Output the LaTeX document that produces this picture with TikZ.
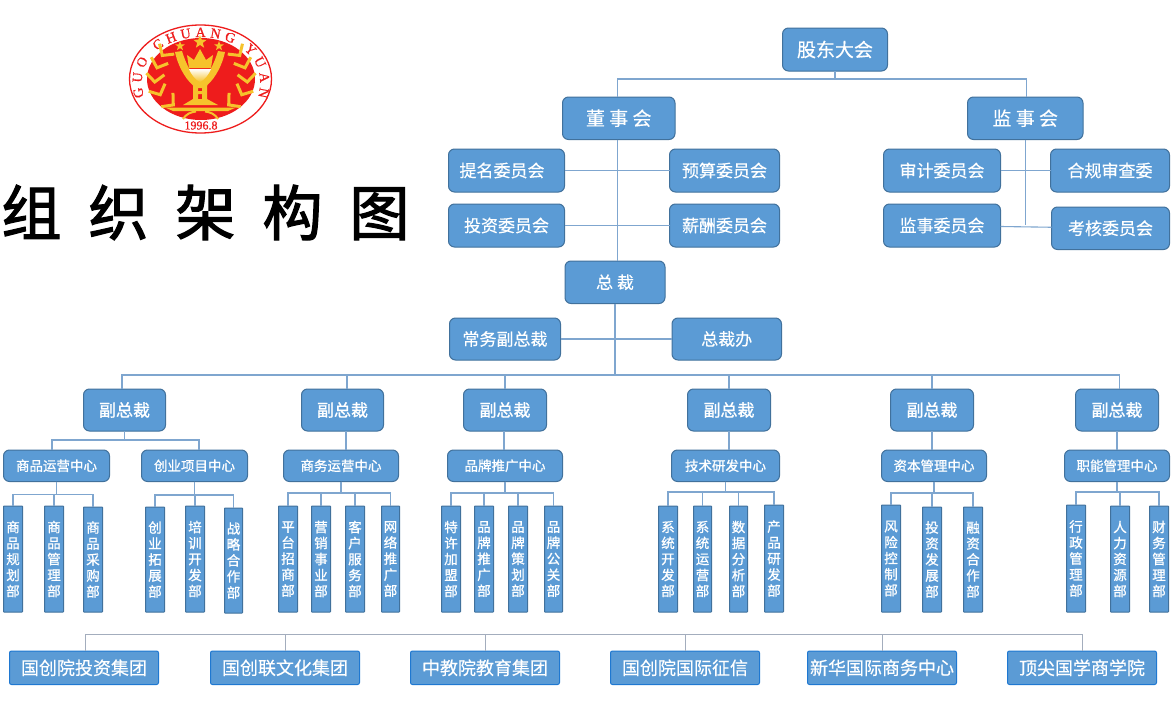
\documentclass[tikz,border=0pt]{standalone}
\usepackage{fontspec}
\usetikzlibrary{decorations.text,shapes.geometric,calc}
\setmainfont{Noto Sans CJK SC}
\newfontfamily\titlefont[FakeBold=2]{Noto Sans CJK SC}
\newfontfamily\softbold[FakeBold=0.35]{Noto Sans CJK SC}
\newfontfamily\boldcjk[FakeBold=1]{Noto Sans CJK SC}
\newfontfamily\logofont[FakeBold=0.8]{Liberation Serif}
\definecolor{boxfill}{HTML}{5B9BD5}
\definecolor{boxedge}{HTML}{41719C}
\definecolor{linkblue}{HTML}{7FA6CF}
\definecolor{linkgray}{HTML}{A3ADBD}
\definecolor{bluedge}{HTML}{1F78D1}
\definecolor{logored}{HTML}{EE1C1C}
\definecolor{logogold}{HTML}{F6C32C}
\tikzset{
  orgbox/.style={draw=boxedge,fill=boxfill,line width=1pt,rounded corners=6pt,inner sep=0pt,outer sep=0pt,text=white,align=center},
  bigbox/.style={orgbox,font=\softbold\fontsize{19}{19}\selectfont},
  midbox/.style={orgbox,font=\softbold\fontsize{17}{17}\selectfont},
  vpbox/.style={orgbox,font=\boldcjk\fontsize{17}{17}\selectfont},
  centrebox/.style={orgbox,font=\boldcjk\fontsize{13.5}{13.5}\selectfont},
  deptbox/.style={orgbox,rounded corners=0.5pt,font=\boldcjk\fontsize{13.5}{16}\selectfont},
  groupbox/.style={orgbox,draw=bluedge,rounded corners=2pt,font=\softbold\fontsize{18}{18}\selectfont},
  conn/.style={draw=linkblue,line width=1.1pt},
  conngray/.style={draw=linkgray,line width=1pt},
  leaf/.style={draw=logogold,line width=3pt,line join=miter}
}
\newcommand{\bx}[7]{\node[#6,minimum width={(#4)-(#2)},minimum height={(#5)-(#3)}] (#1) at ({((#2)+(#4))/2},{((#3)+(#5))/2}) {#7};}
\newcommand{\busdown}[3]{%
  \foreach \ch in {#3} {\draw[conn] (#1.south) -- (#1.south |- 0,#2) -| (\ch.north);}
}
\begin{document}
\begin{tikzpicture}[x=1pt,y=-1pt]
\useasboundingbox (0,0) rectangle (1176,720);
\fill[white] (0,0) rectangle (1176,720);

% logo
\draw[logored,line width=1.3pt,fill=white] (200.5,79) ellipse [x radius=71,y radius=54];
\fill[logored] (201,79) ellipse [x radius=54,y radius=41];
\path[decorate,decoration={text along path,text align={fit to path},
  text={|\logofont\fontsize{14}{14}\selectfont\color{logored}|GUO CHUANG YUAN}}]
  (144,97) .. controls (122,17) and (280,17) .. (258,97);
\node[inner sep=0pt,text=logored,font=\logofont\fontsize{12}{12}\selectfont] (logoyear) at (201,125.5) {1996.8};
\foreach \sx/\sy/\sr in {180/46/5,200/42/7,219/46/5}
  \node[star,star points=5,star point ratio=2.4,fill=logogold,minimum size={2*\sr},inner sep=0pt] at (\sx,\sy) {};
% laurels
\foreach \lx/\ly/\lr in {164/53/-35,158/65/-20,155/79/-5,159/92/25,171/103/50} {
  \begin{scope}[shift={(\lx,\ly)},rotate=\lr]
    \draw[leaf] (-9,-5) -- (0,3) -- (9,-5);
  \end{scope}
  \begin{scope}[shift={(402-\lx,\ly)},rotate=-\lr]
    \draw[leaf] (-9,-5) -- (0,3) -- (9,-5);
  \end{scope}
}
% goblet and crown
\fill[logogold] (175,52) -- (182,51) .. controls (186,64) and (191,74) .. (198,79) -- (202,79) .. controls (209,74) and (214,64) .. (218,51) -- (225,52) .. controls (221,70) and (212,82) .. (204,88) -- (196,88) .. controls (188,82) and (179,70) .. cycle;
\fill[logogold] (187,55) -- (194,60) -- (200,49) -- (206,60) -- (213,55) -- (211,68) -- (189,68) -- cycle;
\shade[top color=white,bottom color=logogold] (189,69) -- (211,69) .. controls (208,76) and (204,80) .. (200,82) .. controls (196,80) and (192,76) .. cycle;
\fill[logogold] (193,85) rectangle (198,101) (202,85) rectangle (207,101) (193,91) rectangle (207,94);
\fill[logogold] (183,105) -- (193,99) -- (207,99) -- (218,105) -- cycle;
\fill[logogold] (165,107.5) -- (236,107.5) -- (228,111) -- (173,111) -- cycle;
\draw[logogold,line width=2pt] (183,119) .. controls (186,114) and (191,112) .. (196,111.5) (218,119) .. controls (215,114) and (210,112) .. (205,111.5);

% title
\node[inner sep=0pt,anchor=center,text=black,font=\titlefont\fontsize{60}{60}\selectfont] (title) at (205.5,212.5) {\spaceskip=27pt 组 织 架 构 图};

% top tiers
\bx{gd}{782.5}{28}{887.5}{71}{bigbox}{股东大会}
\bx{ds}{562.5}{97}{675}{139.5}{bigbox}{董 事 会}
\bx{js}{967.5}{97}{1083}{139.5}{bigbox}{监 事 会}
\bx{tm}{448.5}{149}{564.5}{192}{midbox}{提名委员会\kern9pt}
\bx{ys}{669.5}{149}{779.5}{192}{midbox}{预算委员会}
\bx{tz}{448.5}{204}{564.5}{247}{midbox}{投资委员会}
\bx{xc}{669.5}{204}{779.5}{247}{midbox}{薪酬委员会}
\bx{sj}{883.5}{149}{1000.5}{192}{midbox}{审计委员会}
\bx{hg}{1050.5}{149}{1169.5}{192}{midbox}{合规审查委}
\bx{jw}{883.5}{204}{1000.5}{247}{midbox}{监事委员会}
\bx{kh}{1051.5}{207}{1169.5}{249.5}{midbox}{考核委员会}
\bx{zc}{565}{261}{665}{303.5}{midbox}{总 裁}
\bx{cw}{449.5}{318}{560.5}{360}{midbox}{常务副总裁}
\bx{zb}{672}{318}{781.5}{360}{midbox}{总裁办}

% vice presidents
\bx{v1}{83.5}{389}{165.5}{431}{vpbox}{副总裁}
\bx{v2}{301.5}{389}{383.5}{431}{vpbox}{副总裁}
\bx{v3}{463.5}{389}{546.5}{431}{vpbox}{副总裁}
\bx{v4}{687.5}{389}{770.5}{431}{vpbox}{副总裁}
\bx{v5}{890.5}{389}{973.5}{431}{vpbox}{副总裁}
\bx{v6}{1075.5}{389}{1158.5}{431}{vpbox}{副总裁}

% centres
\bx{c1}{3.5}{450}{109.5}{481.5}{centrebox}{商品运营中心}
\bx{c2}{141.5}{450}{247.5}{481.5}{centrebox}{创业项目中心}
\bx{c3}{283.5}{450}{398.5}{481.5}{centrebox}{商务运营中心}
\bx{c4}{447.5}{450}{562.5}{481.5}{centrebox}{品牌推广中心}
\bx{c5}{671.5}{450}{779.5}{481.5}{centrebox}{技术研发中心}
\bx{c6}{881.5}{450}{986.5}{481.5}{centrebox}{资本管理中心}
\bx{c7}{1064.5}{450}{1169.5}{481.5}{centrebox}{职能管理中心}

% departments
\bx{d11}{3.5}{506}{22.5}{612}{deptbox}{商\\品\\规\\划\\部}
\bx{d12}{44.5}{506}{63.5}{612}{deptbox}{商\\品\\管\\理\\部}
\bx{d13}{83.5}{507}{102.5}{612}{deptbox}{商\\品\\采\\购\\部}
\bx{d21}{145.5}{507}{164.5}{612}{deptbox}{创\\业\\拓\\展\\部}
\bx{d22}{185.5}{506}{204.5}{612}{deptbox}{培\\训\\开\\发\\部}
\bx{d23}{224.5}{508}{242.5}{613}{deptbox}{战\\略\\合\\作\\部}
\bx{d31}{278.5}{506}{297.5}{612}{deptbox}{平\\台\\招\\商\\部}
\bx{d32}{311.5}{506}{330.5}{612}{deptbox}{营\\销\\事\\业\\部}
\bx{d33}{345.5}{506}{364.5}{612}{deptbox}{客\\户\\服\\务\\部}
\bx{d34}{381.5}{506}{399.5}{612}{deptbox}{网\\络\\推\\广\\部}
\bx{d41}{441.5}{506}{460.5}{612}{deptbox}{特\\许\\加\\盟\\部}
\bx{d42}{474.5}{506}{493.5}{612}{deptbox}{品\\牌\\推\\广\\部}
\bx{d43}{508.5}{506}{527.5}{612}{deptbox}{品\\牌\\策\\划\\部}
\bx{d44}{544.5}{506}{562.5}{612}{deptbox}{品\\牌\\公\\关\\部}
\bx{d51}{658.5}{506}{677.5}{612}{deptbox}{系\\统\\开\\发\\部}
\bx{d52}{693.5}{506}{711.5}{612}{deptbox}{系\\统\\运\\营\\部}
\bx{d53}{729.5}{506}{747.5}{612}{deptbox}{数\\据\\分\\析\\部}
\bx{d54}{764.5}{505}{783.5}{612}{deptbox}{产\\品\\研\\发\\部}
\bx{d61}{881.5}{505}{900.5}{612}{deptbox}{风\\险\\控\\制\\部}
\bx{d62}{922.5}{507}{941.5}{612}{deptbox}{投\\资\\发\\展\\部}
\bx{d63}{963.5}{507}{982.5}{612}{deptbox}{融\\资\\合\\作\\部}
\bx{d71}{1066.5}{505}{1085.5}{612}{deptbox}{行\\政\\管\\理\\部}
\bx{d72}{1110.5}{506}{1129.5}{612}{deptbox}{人\\力\\资\\源\\部}
\bx{d73}{1149.5}{506}{1168.5}{612}{deptbox}{财\\务\\管\\理\\部}

% groups
\bx{g1}{9.5}{651}{158.5}{684.5}{groupbox}{国创院投资集团}
\bx{g2}{210.5}{651}{359.5}{684.5}{groupbox}{国创联文化集团}
\bx{g3}{410.5}{651}{559.5}{684.5}{groupbox}{中教院教育集团}
\bx{g4}{610.5}{651}{759.5}{684.5}{groupbox}{国创院国际征信}
\bx{g5}{807.5}{651}{956.5}{684.5}{groupbox}{新华国际商务中心}
\bx{g6}{1007.5}{651}{1156.5}{684.5}{groupbox}{顶尖国学商学院}

% connectors
\coordinate (b1) at (0,79);
\coordinate (b2) at (0,375);
\coordinate (b3) at (0,634);
\draw[conn] (gd.south) -- (gd.south |- b1);
\draw[conn] ([xshift=-1pt]ds.north) -- ([xshift=-1pt]ds.north |- b1) -- ([xshift=1pt]js.north |- b1) -- ([xshift=1pt]js.north);
\draw[conn] ([xshift=-1pt]ds.south) -- ([xshift=-1pt]ds.south |- zc.north);
\draw[conn] (tm.east) -- (ys.west |- tm.east);
\draw[conn] (tz.east) -- (xc.west |- tz.east);
\draw[conn] ([xshift=0.5pt]js.south) -- ([xshift=0.5pt]js.south |- 0,224.5);
\draw[conn] (sj.east) -- (hg.west |- sj.east);
\draw[conn] ([yshift=-1pt]jw.east) -- ([yshift=1pt]kh.west);
\draw[conn] (zc.south) -- (zc.south |- b2);
\draw[conn] (cw.east) -- (zb.west);
\draw[conn] ([xshift=-2.5pt]v1.north) -- ([xshift=-2.5pt]v1.north |- b2) -- ([xshift=2.5pt]v6.north |- b2) -- ([xshift=2.5pt]v6.north);
\draw[conn] ([xshift=4.5pt]v2.north) -- ([xshift=4.5pt]v2.north |- b2);
\draw[conn] (v3.north) -- (v3.north |- b2);
\draw[conn] (v4.north) -- (v4.north |- b2);
\draw[conn] (v5.north) -- (v5.north |- b2);
\draw[conn] (v1.south) -- (v1.south |- 0,440);
\draw[conn] ([xshift=-4.5pt]c1.north) -- ([xshift=-4.5pt]c1.north |- 0,440) -- ([xshift=4.5pt]c2.north |- 0,440) -- ([xshift=4.5pt]c2.north);
\draw[conn] ([xshift=3.5pt]v2.south) -- ([xshift=3.5pt]v2.south |- c3.north);
\draw[conn] ([xshift=-1pt]v3.south) -- ([xshift=-1pt]v3.south |- c4.north);
\draw[conn] (v4.south) -- (v4.south |- c5.north);
\draw[conn] (v5.south) -- (v5.south |- c6.north);
\draw[conn] (v6.south) -- (v6.south |- c7.north);
\busdown{c1}{494.5}{d11,d12,d13}
\busdown{c2}{495}{d21,d22,d23}
\busdown{c3}{493}{d31,d32,d33,d34}
\busdown{c4}{493}{d41,d42,d43,d44}
\busdown{c5}{492}{d51,d52,d53,d54}
\busdown{c6}{493}{d61,d62,d63}
\busdown{c7}{492}{d71,d72,d73}
\draw[conngray] ([xshift=1.5pt]g1.north) -- ([xshift=1.5pt]g1.north |- b3) -- (g6.north |- b3) -- (g6.north);
\foreach \gname in {g2,g3,g4,g5} \draw[conngray] (\gname.north) -- (\gname.north |- b3);
\end{tikzpicture}
\end{document}
